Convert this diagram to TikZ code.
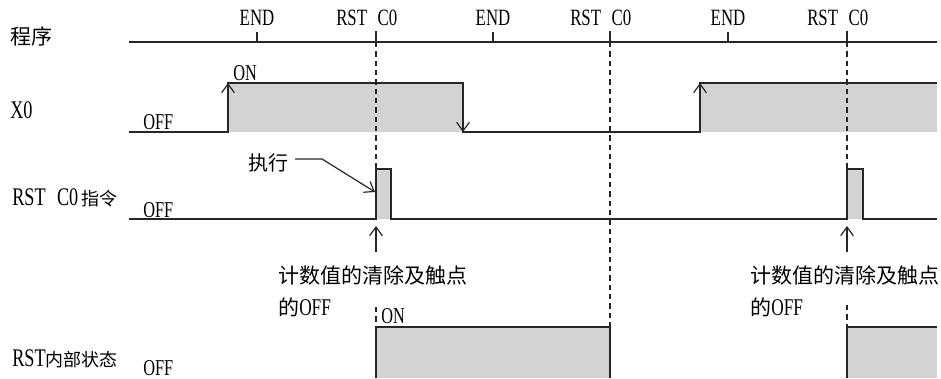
\documentclass[tikz,border=0pt]{standalone}
\usepackage{fontspec}
\setmainfont{Liberation Serif}[FakeStretch=0.72]
\newfontfamily\cjk{Noto Sans CJK SC}
\usepackage{tikz}
\usetikzlibrary{arrows.meta}
\definecolor{inkgrey}{RGB}{38,38,38}
\definecolor{levelgrey}{RGB}{210,211,213}
\newcommand\zhrow{\cjk\fontsize{13.5}{16}\selectfont}
\newcommand\zhnote{\cjk\fontsize{15.75}{19}\selectfont}
\tikzset{
  signal/.style={draw=inkgrey,line width=0.9pt},
  level/.style={fill=levelgrey},
  guide/.style={draw=inkgrey,line width=0.8pt,dash pattern=on 4pt off 3pt},
  edgeflow/.style={-{Straight Barb[length=6.5pt,width=9.5pt]},draw=inkgrey,
    line width=0.9pt},
  ticklabel/.style={anchor=base,inner sep=0pt,font=\fontsize{17.5}{20}\selectfont},
  statelabel/.style={anchor=base west,inner sep=0pt,
    font=\fontsize{17}{20}\selectfont},
  rowlabel/.style={anchor=base west,inner sep=0pt,font=\fontsize{19}{22}\selectfont},
  notelabel/.style={anchor=base west,inner sep=0pt,
    font=\fontsize{18}{21}\selectfont}
}

\begin{document}
\begin{tikzpicture}[x=0.75pt,y=-0.75pt]
  \useasboundingbox (0,0) rectangle (941,378);
  \node[rowlabel] (prog) at (10,45) {\zhnote 程序};
  \node[rowlabel] (xin) at (10,118) {X0};
  \node[rowlabel] (rstcmd) at (12,205) {RST\hspace{8.5pt}C0\hspace{2pt}{\zhrow 指令}};
  \node[rowlabel] (rststate) at (12,366) {RST{\zhrow 内部状态}};

  \draw[signal] (129,42) -- (937,42);
  \foreach \xx/\nm in {257/a,493/b,728/c} {
    \draw[signal] (\xx,32) -- (\xx,42);
    \node[ticklabel] (end\nm) at (\xx,26) {END};
  }
  \foreach \xx/\nm in {376/a,610/b,847/c} {
    \draw[signal] (\xx,31) -- (\xx,42);
    \node[ticklabel,anchor=base west] (rst\nm) at (\xx-40,26) {RST\hspace{8pt}C0};
  }

  \fill[level] (228,83) rectangle (463,132);
  \fill[level] (700,83) rectangle (937,132);
  \fill[level] (376,169) rectangle (391,219);
  \fill[level] (847,169) rectangle (863,219);
  \fill[level] (376,327) rectangle (610,378);
  \fill[level] (847,327) rectangle (937,378);

  \draw[guide] (376,42) -- (376,169);
  \draw[guide] (610,42) -- (610,327);
  \draw[guide] (847,42) -- (847,169);
  \draw[guide] (376,307) -- (376,327);
  \draw[guide] (847,305) -- (847,327);

  \draw[signal] (129,132) -| (228,83) -| (463,132) -| (700,83) -- (937,83);
  \draw[edgeflow] (228,110) -- (228,83);
  \draw[edgeflow] (463,105) -- (463,132);
  \draw[edgeflow] (700,110) -- (700,83);
  \node[statelabel] (xoff) at (143,129) {OFF};
  \node[statelabel] (xon) at (233,80) {ON};

  \draw[signal] (129,219) -| (376,169) -| (391,219) -| (847,169) -| (863,219)
    -- (937,219);
  \node[statelabel] (cmdoff) at (143,217) {OFF};
  \node[notelabel] (exec) at (248,170) {\cjk\fontsize{15}{18}\selectfont 执行};
  \coordinate (hit) at (375,192);
  \draw[edgeflow] ([xshift=5pt,yshift=2.5pt]exec.east) -- ++(27,0) -- (hit);

  \coordinate (clrafoot) at (376,252);
  \coordinate (clratip) at (376,226);
  \coordinate (clrbfoot) at (847,252);
  \coordinate (clrbtip) at (847,226);
  \draw[edgeflow] (clrafoot) -- (clratip);
  \draw[edgeflow] (clrbfoot) -- (clrbtip);
  \node[notelabel] (clra1) at (278,283) {\zhnote 计数值的清除及触点};
  \node[notelabel] (clra2) at (278,315) {{\zhnote 的}OFF};
  \node[notelabel] (clrb1) at (750,283) {\zhnote 计数值的清除及触点};
  \node[notelabel] (clrb2) at (750,315) {{\zhnote 的}OFF};

  \draw[signal] (376,378) -- (376,327) -- (610,327) -- (610,378);
  \draw[signal] (847,378) -- (847,327) -- (937,327);
  \node[statelabel] (stoff) at (143,375) {OFF};
  \node[statelabel] (ston) at (381,323) {ON};
\end{tikzpicture}
\end{document}
